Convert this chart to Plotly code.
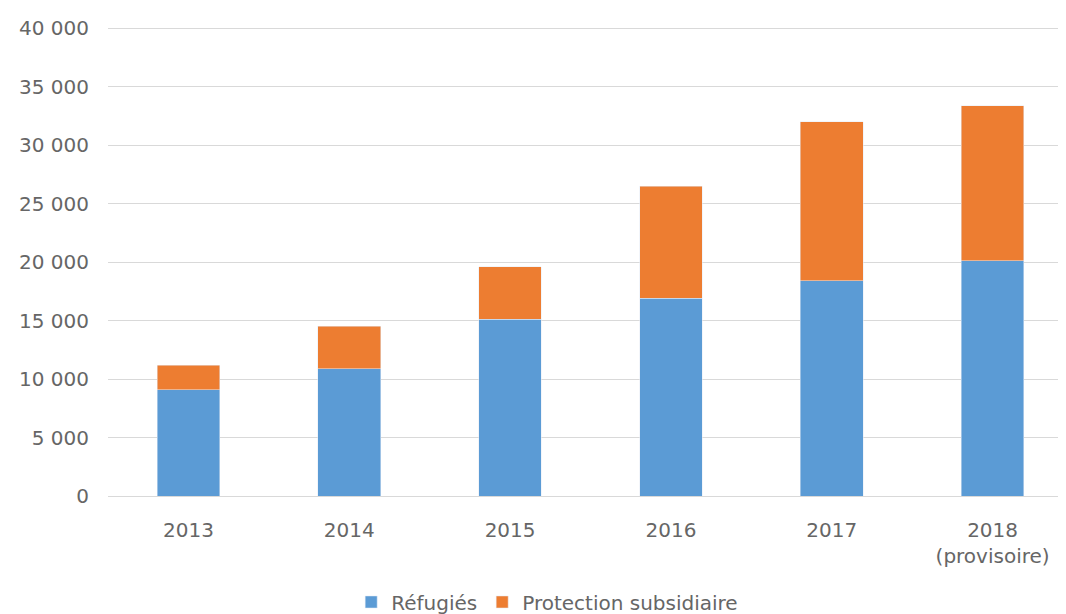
import plotly.graph_objects as go

categories = ["2013", "2014", "2015", "2016", "2017", "2018<br>(provisoire)"]
refugies = [9100, 10900, 15100, 16900, 18400, 20100]
protection = [2100, 3600, 4500, 9600, 13600, 13250]
tick_vals = [0, 5000, 10000, 15000, 20000, 25000, 30000, 35000, 40000]

fig = go.Figure()
fig.add_trace(go.Bar(x=categories, y=refugies, name="Réfugiés", marker_color="#5B9BD5"))
fig.add_trace(go.Bar(x=categories, y=protection, name="Protection subsidiaire", marker_color="#ED7D31"))

fig.update_layout(
    barmode="stack",
    bargap=0.61,
    width=1066, height=614,
    margin=dict(l=100, r=1, t=19, b=121),
    paper_bgcolor="white", plot_bgcolor="white",
    separators=", ",
    font=dict(family="DejaVu Sans, Liberation Sans, sans-serif", size=20, color="#666666"),
    legend=dict(orientation="h", x=0.252, xanchor="left", y=-0.226, yanchor="middle",
                font=dict(size=20, color="#666666"), traceorder="normal"),
    yaxis=dict(range=[0, 40100], tickvals=tick_vals, tickformat=",d",
               gridcolor="#D9D9D9", gridwidth=1, zeroline=False, showline=False,
               ticks="", ticklabelstandoff=18),
    xaxis=dict(showline=True, linecolor="#D9D9D9", ticks="", ticklabelstandoff=16),
)
fig.write_html("out.html")
